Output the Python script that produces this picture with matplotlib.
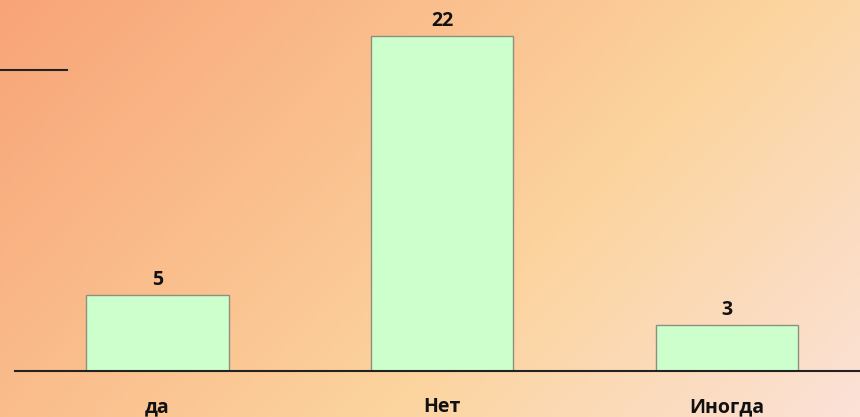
import numpy as np
import matplotlib.pyplot as plt

categories = ['да', 'Нет', 'Иногда']
counts = [5, 22, 3]

plt.rcParams['font.family'] = ['Open Sans', 'DejaVu Sans']


def gradient_background(fig):
    """Диагональная заливка: лососевый -> персиковый -> розоватый"""
    h, w = 417, 860
    yy, xx = np.mgrid[0:h, 0:w]
    t = 0.68 * xx / w + 0.32 * yy / h
    stops = np.array([0.0, 0.62, 1.0])
    cols = np.array([[248, 164, 120],
                     [252, 212, 158],
                     [252, 226, 216]]) / 255.0
    img = np.stack([np.interp(t, stops, cols[:, c]) for c in range(3)], axis=-1)
    bg = fig.add_axes([0, 0, 1, 1], zorder=-10)
    bg.imshow(img, aspect='auto', extent=[0, 1, 0, 1], origin='upper')
    bg.axis('off')


fig = plt.figure(figsize=(8.6, 4.17), dpi=100)
gradient_background(fig)

# область графика: базовая линия на 371 px сверху
ax = fig.add_axes([15 / 860, (417 - 371) / 417, 1 - 15 / 860, 371 / 417])
ax.patch.set_alpha(0)

x = np.arange(len(categories))
bars = ax.bar(x, counts, width=0.5, color='#ccffcc', edgecolor='#8f8f80', linewidth=1.0)
for b, v in zip(bars, counts):
    ax.text(b.get_x() + b.get_width() / 2, v + 0.35, str(v), ha='center', va='bottom',
            fontsize=14, fontweight='bold', color='#111111')

ax.set_xlim(-0.5, 2.467)
ax.set_ylim(0, 371 / 15.23)
ax.set_xticks(x)
ax.set_xticklabels(categories, fontsize=14, fontweight='bold', color='#111111')
ax.tick_params(axis='x', length=0, pad=19)
ax.set_yticks([])
for s in ['top', 'right', 'left']:
    ax.spines[s].set_visible(False)
ax.spines['bottom'].set_color('#222222')
ax.spines['bottom'].set_linewidth(1.5)

# короткая линия слева вверху
fig.add_artist(plt.Line2D([0, 67 / 860], [1 - 70 / 417, 1 - 70 / 417],
                          color='#222222', linewidth=1.5))

fig.savefig('out.png', dpi=100)
